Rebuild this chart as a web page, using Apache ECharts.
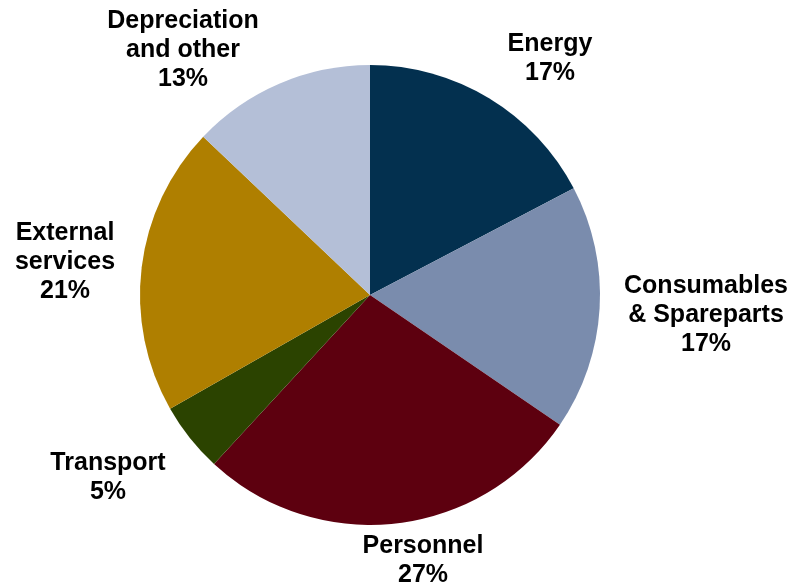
<!DOCTYPE html>
<html>
<head>
<meta charset="utf-8">
<script src="https://cdn.jsdelivr.net/npm/echarts@6/dist/echarts.min.js"></script>
<style>html,body{margin:0;padding:0;background:#fff}#c{width:794px;height:584px}</style>
</head>
<body>
<div id="c"></div>
<script>
var categories = ["Energy", "Consumables\n& Spareparts", "Personnel", "Transport", "External\nservices", "Depreciation\nand other"];
var values = [17.3, 17.2, 27.3, 4.9, 20.3, 12.9];
var pctLabels = ["17%", "17%", "27%", "5%", "21%", "13%"];
var colors = ["#03304F", "#7A8CAD", "#5D000F", "#2B4300", "#AF7F00", "#B4BFD7"];
var labelPos = [[550, 59], [706, 315], [423, 561], [108, 478], [65, 262], [183, 50]];

var chart = echarts.init(document.getElementById('c'), null, {renderer: 'canvas'});
chart.setOption({
  animation: false,
  series: [{
    type: 'pie',
    center: [370, 295],
    radius: 230,
    startAngle: 90,
    clockwise: true,
    data: categories.map(function (c, i) {
      return {name: c, value: values[i], itemStyle: {color: colors[i]}};
    }),
    label: {
      show: true,
      position: 'outside',
      formatter: function (p) { return p.name + '\n' + pctLabels[p.dataIndex]; },
      fontFamily: 'Liberation Sans, Arial, sans-serif',
      fontWeight: 'bold',
      fontSize: 25,
      lineHeight: 29,
      color: '#000',
      align: 'center',
      overflow: 'none',
      width: 300
    },
    labelLine: {show: false},
    labelLayout: function (p) {
      var pos = labelPos[p.dataIndex];
      return {x: pos[0], y: pos[1], align: 'center', verticalAlign: 'middle', hideOverlap: false};
    },
    emphasis: {disabled: true}
  }]
});
</script>
</body>
</html>
